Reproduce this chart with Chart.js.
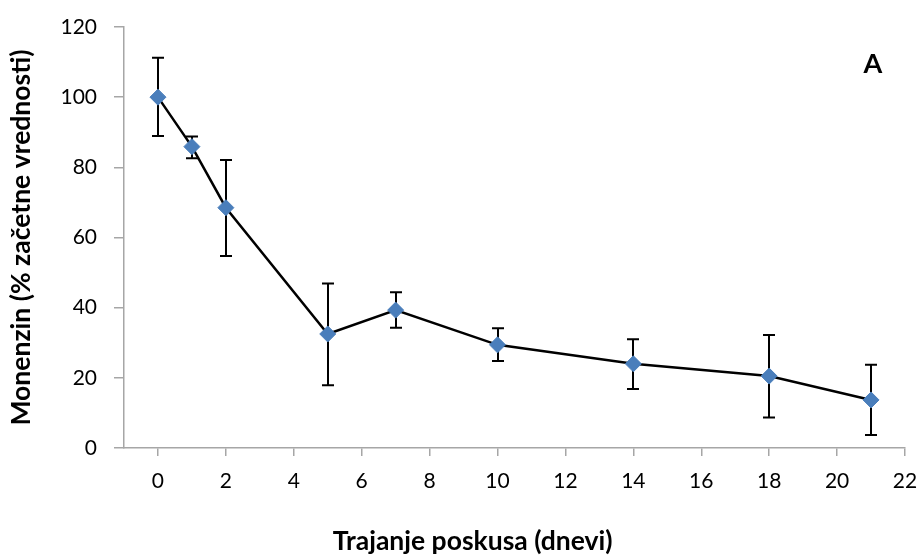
<!DOCTYPE html>
<html>
<head>
<meta charset="utf-8">
<script src="https://cdn.jsdelivr.net/npm/chart.js@4"></script>
<style>
  html, body { margin: 0; padding: 0; background: #fff; }
  #wrap { width: 921px; height: 557px; position: relative; }
</style>
</head>
<body>
<div id="wrap"><canvas id="chart"></canvas></div>
<script>
// days of the trial and monensin remaining (% of start value)
const days = [0, 1, 2, 5, 7, 10, 14, 18, 21];
const monensin = [100, 85.9, 68.5, 32.5, 39.3, 29.4, 24.0, 20.5, 13.7];
const errUp = [11.2, 2.9, 13.6, 14.4, 5.1, 4.7, 7.0, 11.7, 10.0];
const errDown = [11.1, 3.3, 13.8, 14.6, 5.0, 4.6, 7.2, 11.8, 10.0];
const xTicks = [0, 2, 4, 6, 8, 10, 12, 14, 16, 18, 20, 22];
const yTicks = [0, 20, 40, 60, 80, 100, 120];

const FONT = "Lato, 'Open Sans', sans-serif";
const AXIS = '#a6a6a6';

const errorBars = {
  id: 'errorBars',
  beforeDatasetsDraw(chart) {
    const { ctx, scales: { x, y } } = chart;
    ctx.save();
    ctx.strokeStyle = '#000';
    ctx.lineWidth = 2;
    days.forEach((d, i) => {
      const px = Math.round(x.getPixelForValue(d));
      const top = y.getPixelForValue(monensin[i] + errUp[i]);
      const bot = y.getPixelForValue(monensin[i] - errDown[i]);
      ctx.beginPath();
      ctx.moveTo(px, top); ctx.lineTo(px, bot);
      ctx.moveTo(px - 6, top); ctx.lineTo(px + 6, top);
      ctx.moveTo(px - 6, bot); ctx.lineTo(px + 6, bot);
      ctx.stroke();
    });
    ctx.restore();
  }
};

const panelLabel = {
  id: 'panelLabel',
  afterDraw(chart) {
    const { ctx } = chart;
    ctx.save();
    ctx.fillStyle = '#000';
    ctx.font = 'bold 27px ' + FONT;
    ctx.textAlign = 'center';
    ctx.textBaseline = 'middle';
    ctx.fillText('A', 873, 64);
    ctx.restore();
  }
};

new Chart(document.getElementById('chart'), {
  type: 'line',
  data: {
    datasets: [{
      data: days.map((d, i) => ({ x: d, y: monensin[i] })),
      borderColor: '#000',
      borderWidth: 2.5,
      pointStyle: 'rectRot',
      pointRadius: 8,
      pointHoverRadius: 8,
      pointBackgroundColor: '#4a7ebb',
      pointBorderColor: '#4a7ebb',
      pointBorderWidth: 1,
      tension: 0
    }]
  },
  options: {
    responsive: true,
    maintainAspectRatio: false,
    animation: false,
    layout: { padding: { top: 27, right: 16, left: 0, bottom: 0 } },
    plugins: { legend: { display: false }, tooltip: { enabled: false } },
    scales: {
      x: {
        type: 'linear',
        min: -1,
        max: 22,
        afterBuildTicks: s => { s.ticks = xTicks.map(v => ({ value: v })); },
        afterFit: s => { s.height = 109; s.paddingLeft = 0; s.paddingRight = 0; },
        border: { color: AXIS, width: 1.5 },
        grid: { drawOnChartArea: false, drawTicks: true, tickLength: 8, color: AXIS, lineWidth: 1.5 },
        ticks: { color: '#000', font: { family: FONT, size: 21 }, padding: 13, maxRotation: 0 },
        // trailing spaces nudge the centred title left, as in the original figure
        title: { display: true, text: 'Trajanje poskusa (dnevi)             ', color: '#000',
                 font: { family: FONT, size: 26.5, weight: 'bold' }, padding: { top: 0, bottom: 0 } }
      },
      y: {
        min: 0,
        max: 120,
        afterBuildTicks: s => { s.ticks = yTicks.map(v => ({ value: v })); },
        afterFit: s => { s.width = 124; s.paddingTop = 0; s.paddingBottom = 0; },
        border: { color: AXIS, width: 1.5 },
        grid: { drawOnChartArea: false, drawTicks: true, tickLength: 10, color: AXIS, lineWidth: 1.5 },
        ticks: { color: '#000', font: { family: FONT, size: 21 }, padding: 17 },
        title: { display: true, text: 'Monenzin (% začetne vrednosti)', color: '#000',
                 font: { family: FONT, size: 26.5, weight: 'bold' }, padding: { top: 6, bottom: 0 } }
      }
    }
  },
  plugins: [errorBars, panelLabel]
});
</script>
</body>
</html>
